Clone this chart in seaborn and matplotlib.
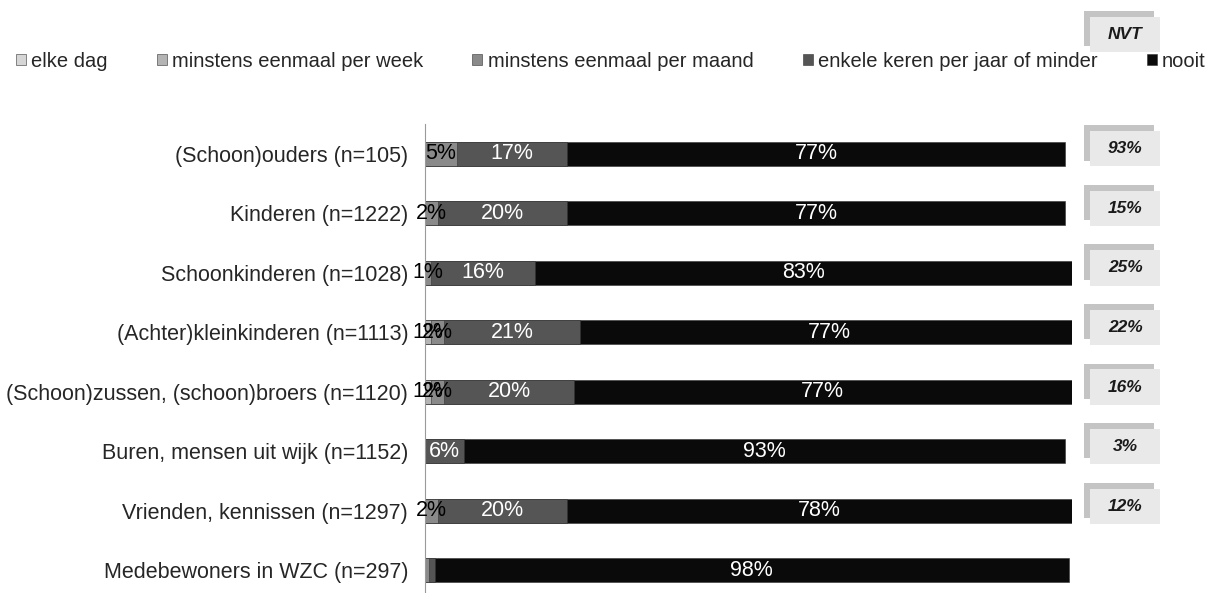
import numpy as np
import pandas as pd
import seaborn as sns
import matplotlib.pyplot as plt
from matplotlib.patches import Rectangle
from matplotlib import transforms

# data
groepen = ['(Schoon)ouders (n=105)', 'Kinderen (n=1222)', 'Schoonkinderen (n=1028)',
           '(Achter)kleinkinderen (n=1113)', '(Schoon)zussen, (schoon)broers (n=1120)',
           'Buren, mensen uit wijk (n=1152)', 'Vrienden, kennissen (n=1297)',
           'Medebewoners in WZC (n=297)']
frequenties = ['elke dag', 'minstens eenmaal per week', 'minstens eenmaal per maand',
               'enkele keren per jaar of minder', 'nooit']
elke_dag = [0, 0, 0, 0, 0, 0, 0, 0]
per_week = [0, 0, 0, 1, 1, 0, 0, 0]
per_maand = [5, 2, 1, 2, 2, 0, 2, 0.6]
per_jaar = [17, 20, 16, 21, 20, 6, 20, 0.9]
nooit = [77, 77, 83, 77, 77, 93, 78, 98]
nvt = ['93%', '15%', '25%', '22%', '16%', '3%', '12%', None]

kleuren = ['#d6d6d6', '#b4b4b4', '#8a8a8a', '#555555', '#0a0a0a']
tekstkleur = ['black', 'black', 'black', 'white', 'white']

df = pd.DataFrame({'groep': groepen, frequenties[0]: elke_dag, frequenties[1]: per_week,
                   frequenties[2]: per_maand, frequenties[3]: per_jaar, frequenties[4]: nooit})

sns.set_style('white')
plt.rcParams['font.family'] = ['Liberation Sans', 'DejaVu Sans']

fig = plt.figure(figsize=(12.14, 5.93), dpi=100)
ax = fig.add_axes([0.350, -0.012, 0.533, 0.803])

cum = df[frequenties].cumsum(axis=1)
# stacked bars: draw longest cumulative first
for i in range(len(frequenties) - 1, -1, -1):
    sns.barplot(x=cum[frequenties[i]], y=df['groep'], color=kleuren[i], orient='h',
                width=0.4, ax=ax, edgecolor='#333333', linewidth=0.4,
                label=frequenties[i])

# segment labels
for r in range(len(groepen)):
    left = 0
    for i, f in enumerate(frequenties):
        v = df.loc[r, f]
        if v >= 1:
            ax.text(left + v / 2, r, '{:.0f}%'.format(v), ha='center', va='center',
                    fontsize=15.5, color=tekstkleur[i])
        left += v

ax.set_xlim(0, 100)
ax.set_ylim(7.5, -0.5)
ax.set_xlabel(''); ax.set_ylabel('')
ax.xaxis.set_visible(False)
for s in ['top', 'right', 'bottom']:
    ax.spines[s].set_visible(False)
ax.spines['left'].set_color('#9a9a9a')
ax.tick_params(axis='y', which='major', length=0, pad=12, labelsize=15.5)
ax.set_yticks(np.arange(-0.5, 8, 1), minor=True)
ax.tick_params(axis='y', which='minor', length=4, color='#9a9a9a', direction='out')

# legend
handles, labels = ax.get_legend_handles_labels()
order = [labels.index(f) for f in frequenties]
leg = fig.legend([handles[k] for k in order], frequenties, loc='center',
                 bbox_to_anchor=(0.503, 0.897), ncol=5, frameon=False, fontsize=14.5,
                 handlelength=0.5, handleheight=0.5, handletextpad=0.25, columnspacing=2.45)
if ax.get_legend():
    ax.get_legend().remove()

# NVT boxes
trans = transforms.blended_transform_factory(fig.transFigure, ax.transData)
bw = 70 / 1214
bh = 0.59
dx = 6 / 1214
dy = 0.1

def nvt_box(y, tekst):
    ax.add_patch(Rectangle((0.927 - bw / 2 - dx, y - bh / 2 - dy), bw, bh, transform=trans,
                           facecolor='#c4c4c4', edgecolor='none', clip_on=False))
    ax.add_patch(Rectangle((0.927 - bw / 2, y - bh / 2), bw, bh, transform=trans,
                           facecolor='#e9e9e9', edgecolor='none', clip_on=False))
    ax.text(0.927, y, tekst, transform=trans, ha='center', va='center', fontsize=12.5,
            fontweight='bold', fontstyle='italic', color='#1a1a1a', clip_on=False)

nvt_box(-2.0, 'NVT')
for r, t in enumerate(nvt):
    if t:
        nvt_box(r - 0.08, t)

fig.savefig('out.png', dpi=100)
